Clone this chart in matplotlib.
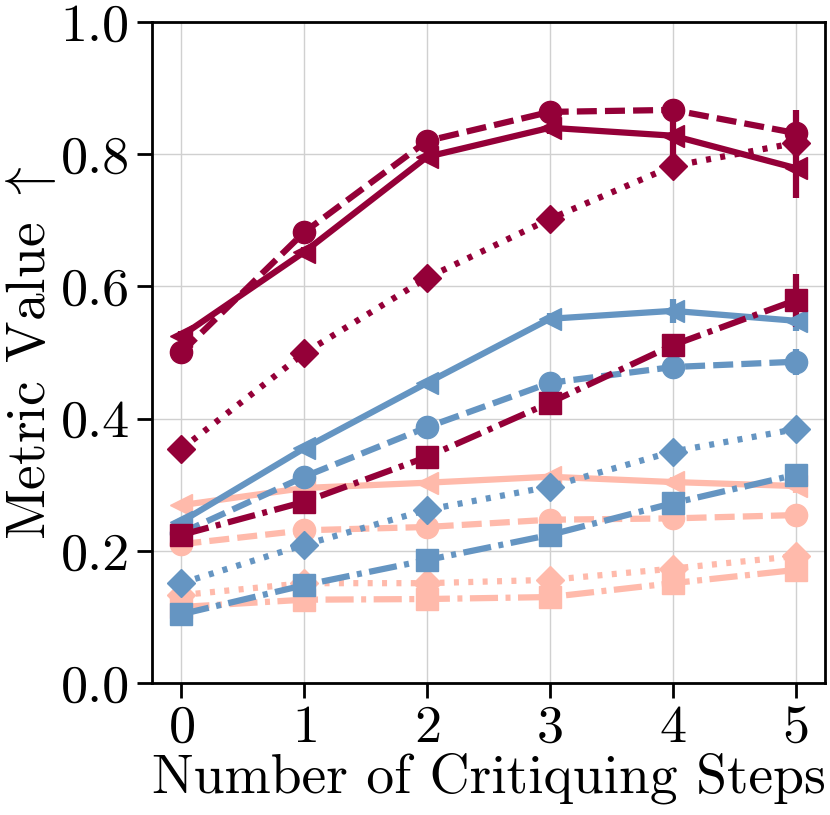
import matplotlib
matplotlib.use("Agg")
import matplotlib.pyplot as plt
import numpy as np

plt.rcParams['font.family'] = 'serif'
plt.rcParams['font.serif'] = ['cmr10']
plt.rcParams['mathtext.fontset'] = 'cm'
plt.rcParams['axes.formatter.use_mathtext'] = True
plt.rcParams['font.size'] = 30

steps = [0, 1, 2, 3, 4, 5]

# dark red group
red_solid = [0.525, 0.652, 0.796, 0.840, 0.828, 0.779]
red_solid_err = [0.008, 0.008, 0.008, 0.010, 0.030, 0.045]
red_dashed = [0.500, 0.682, 0.820, 0.864, 0.867, 0.832]
red_dashed_err = [0.005, 0.006, 0.006, 0.008, 0.015, 0.035]
red_dotted = [0.354, 0.499, 0.613, 0.702, 0.782, 0.817]
red_dotted_err = [0.004, 0.004, 0.004, 0.004, 0.005, 0.008]
red_dashdot = [0.224, 0.274, 0.342, 0.424, 0.511, 0.579]
red_dashdot_err = [0.004, 0.004, 0.005, 0.008, 0.010, 0.040]

# blue group
blue_solid = [0.244, 0.355, 0.454, 0.551, 0.563, 0.548]
blue_solid_err = [0.004, 0.005, 0.005, 0.008, 0.018, 0.015]
blue_dashed = [0.227, 0.312, 0.387, 0.454, 0.478, 0.486]
blue_dashed_err = [0.004, 0.004, 0.005, 0.006, 0.008, 0.020]
blue_dotted = [0.151, 0.209, 0.262, 0.297, 0.350, 0.384]
blue_dotted_err = [0.003, 0.003, 0.003, 0.003, 0.004, 0.005]
blue_dashdot = [0.104, 0.148, 0.186, 0.224, 0.272, 0.315]
blue_dashdot_err = [0.003, 0.003, 0.003, 0.004, 0.005, 0.006]

# salmon group
pink_solid = [0.269, 0.295, 0.303, 0.312, 0.304, 0.298]
pink_solid_err = [0.003, 0.003, 0.004, 0.005, 0.008, 0.010]
pink_dashed = [0.210, 0.231, 0.236, 0.247, 0.249, 0.254]
pink_dashed_err = [0.003, 0.003, 0.003, 0.003, 0.004, 0.006]
pink_dotted = [0.133, 0.151, 0.151, 0.156, 0.173, 0.192]
pink_dotted_err = [0.003, 0.003, 0.003, 0.003, 0.004, 0.005]
pink_dashdot = [0.115, 0.126, 0.127, 0.130, 0.151, 0.171]
pink_dashdot_err = [0.003, 0.003, 0.003, 0.003, 0.004, 0.006]

red = '#940038'
blue = '#6595c2'
pink = '#ffbaab'

dashed = (0, (3.2, 1.3))
dotted = (0, (0.8, 1.5))
dashdot = (0, (4.5, 1.2, 0.8, 1.2))

series = [
    (red_solid, red_solid_err, red, '-', '<'),
    (red_dashed, red_dashed_err, red, dashed, 'o'),
    (red_dotted, red_dotted_err, red, dotted, 'D'),
    (red_dashdot, red_dashdot_err, red, dashdot, 's'),
    (blue_solid, blue_solid_err, blue, '-', '<'),
    (blue_dashed, blue_dashed_err, blue, dashed, 'o'),
    (blue_dotted, blue_dotted_err, blue, dotted, 'D'),
    (blue_dashdot, blue_dashdot_err, blue, dashdot, 's'),
    (pink_solid, pink_solid_err, pink, '-', '<'),
    (pink_dashed, pink_dashed_err, pink, dashed, 'o'),
    (pink_dotted, pink_dotted_err, pink, dotted, 'D'),
    (pink_dashdot, pink_dashdot_err, pink, dashdot, 's'),
]

fig, ax = plt.subplots(figsize=(8.3, 8.15), dpi=100)
fig.subplots_adjust(left=0.183, right=0.994, top=0.973, bottom=0.162)

for vals, err, col, ls, mk in series[::-1]:
    ax.errorbar(steps, vals, yerr=err, color=col, linestyle=ls, marker=mk,
                linewidth=4.5, markersize=16 if mk != 'D' else 14,
                elinewidth=4.5, capsize=0)

ax.set_xlim(-0.24, 5.24)
ax.set_ylim(0.0, 1.0)
ax.set_xticks(steps)
ax.set_yticks([0.0, 0.2, 0.4, 0.6, 0.8, 1.0])
ax.set_yticklabels(['0.0', '0.2', '0.4', '0.6', '0.8', '1.0'])
ax.grid(True, color='#d0d0d0', linewidth=1)
ax.set_axisbelow(True)
ax.tick_params(axis='both', which='major', length=11, width=2, labelsize=39, pad=5)
for sp in ax.spines.values():
    sp.set_linewidth(2)

ax.set_xlabel('Number of Critiquing Steps', fontsize=40, labelpad=0)
ax.set_ylabel(r'Metric Value $\uparrow$', fontsize=40, labelpad=2)

plt.savefig('out.png', dpi=100)
